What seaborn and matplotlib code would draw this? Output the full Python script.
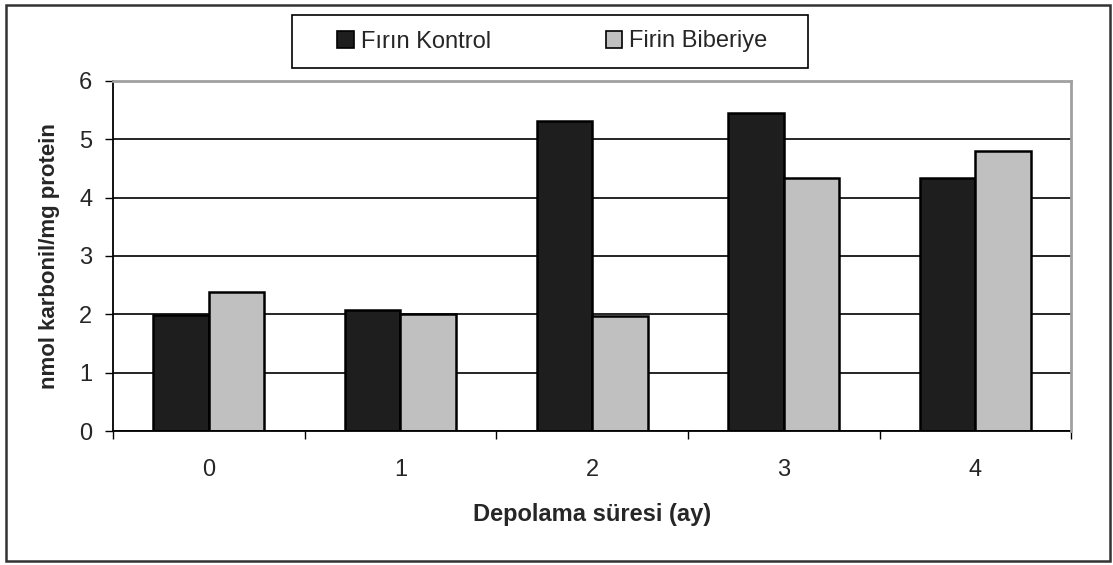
import pandas as pd
import seaborn as sns
import matplotlib.pyplot as plt
from matplotlib.patches import Patch, Rectangle

# values
months = ['0', '1', '2', '3', '4']
kontrol = [1.98, 2.08, 5.31, 5.45, 4.33]
biberiye = [2.38, 2.00, 1.97, 4.33, 4.80]
groups = ['Fırın Kontrol', 'Firin Biberiye']
colors = ['#1e1e1e', '#c0c0c0']

df = pd.DataFrame({
    'ay': months * 2,
    'deger': kontrol + biberiye,
    'grup': [groups[0]] * len(months) + [groups[1]] * len(months),
})

sns.set_style('white')
plt.rcParams['font.family'] = ['Liberation Sans', 'DejaVu Sans']

fig = plt.figure(figsize=(11.13, 5.65), dpi=100)
ax = fig.add_axes([0.1015, 0.237, 0.861, 0.62])

sns.barplot(data=df, x='ay', y='deger', hue='grup', palette=colors,
            width=0.58, edgecolor='black', linewidth=1.8, ax=ax, legend=False)

ax.set_ylim(0, 6)
ax.set_xlim(-0.5, 4.5)
ax.set_yticks(range(7))
ax.yaxis.grid(True, color='black', linewidth=1.2)
ax.set_axisbelow(True)
for s in ['top', 'right']:
    ax.spines[s].set_color('#a0a0a0')
    ax.spines[s].set_linewidth(2)
    ax.spines[s].set_zorder(3)
for s in ['left', 'bottom']:
    ax.spines[s].set_color('black')
    ax.spines[s].set_linewidth(1.3)

ax.tick_params(axis='y', which='major', left=True, length=5.8, width=1, color='black',
               labelsize=17, pad=9)
ax.tick_params(axis='x', which='major', bottom=False, length=0, labelsize=17, pad=20)
# ticks between categories
ax.set_xticks([i + 0.5 for i in range(-1, 5)], minor=True)
ax.tick_params(axis='x', which='minor', bottom=True, length=5.5, width=1, color='black')

ax.set_xlabel('Depolama süresi (ay)', fontsize=17, fontweight='bold', labelpad=16)
ax.set_ylabel('nmol karbonil/mg protein', fontsize=16, fontweight='bold', labelpad=14)

handles = [Patch(facecolor=colors[0], edgecolor='black', linewidth=1.2),
           Patch(facecolor=colors[1], edgecolor='black', linewidth=1.2)]
leg = fig.legend(handles, groups, loc='center', bbox_to_anchor=(552.5 / 1113, 1 - 41.5 / 565),
                 ncol=2, fontsize=17, frameon=False,
                 handlelength=0.7, handleheight=0.7, handletextpad=0.3,
                 columnspacing=4.85, borderpad=0, borderaxespad=0)

# legend frame
fig.patches.append(Rectangle((292 / 1113, 1 - 68 / 565), 516 / 1113, 53 / 565,
                             transform=fig.transFigure, fill=False,
                             edgecolor='black', linewidth=1.2))

# outer chart border
fig.patches.append(Rectangle((6 / 1113, 4 / 565), 1104 / 1113, 556 / 565,
                             transform=fig.transFigure, fill=False,
                             edgecolor='#333333', linewidth=1.8))

plt.savefig('out.png', dpi=100)
